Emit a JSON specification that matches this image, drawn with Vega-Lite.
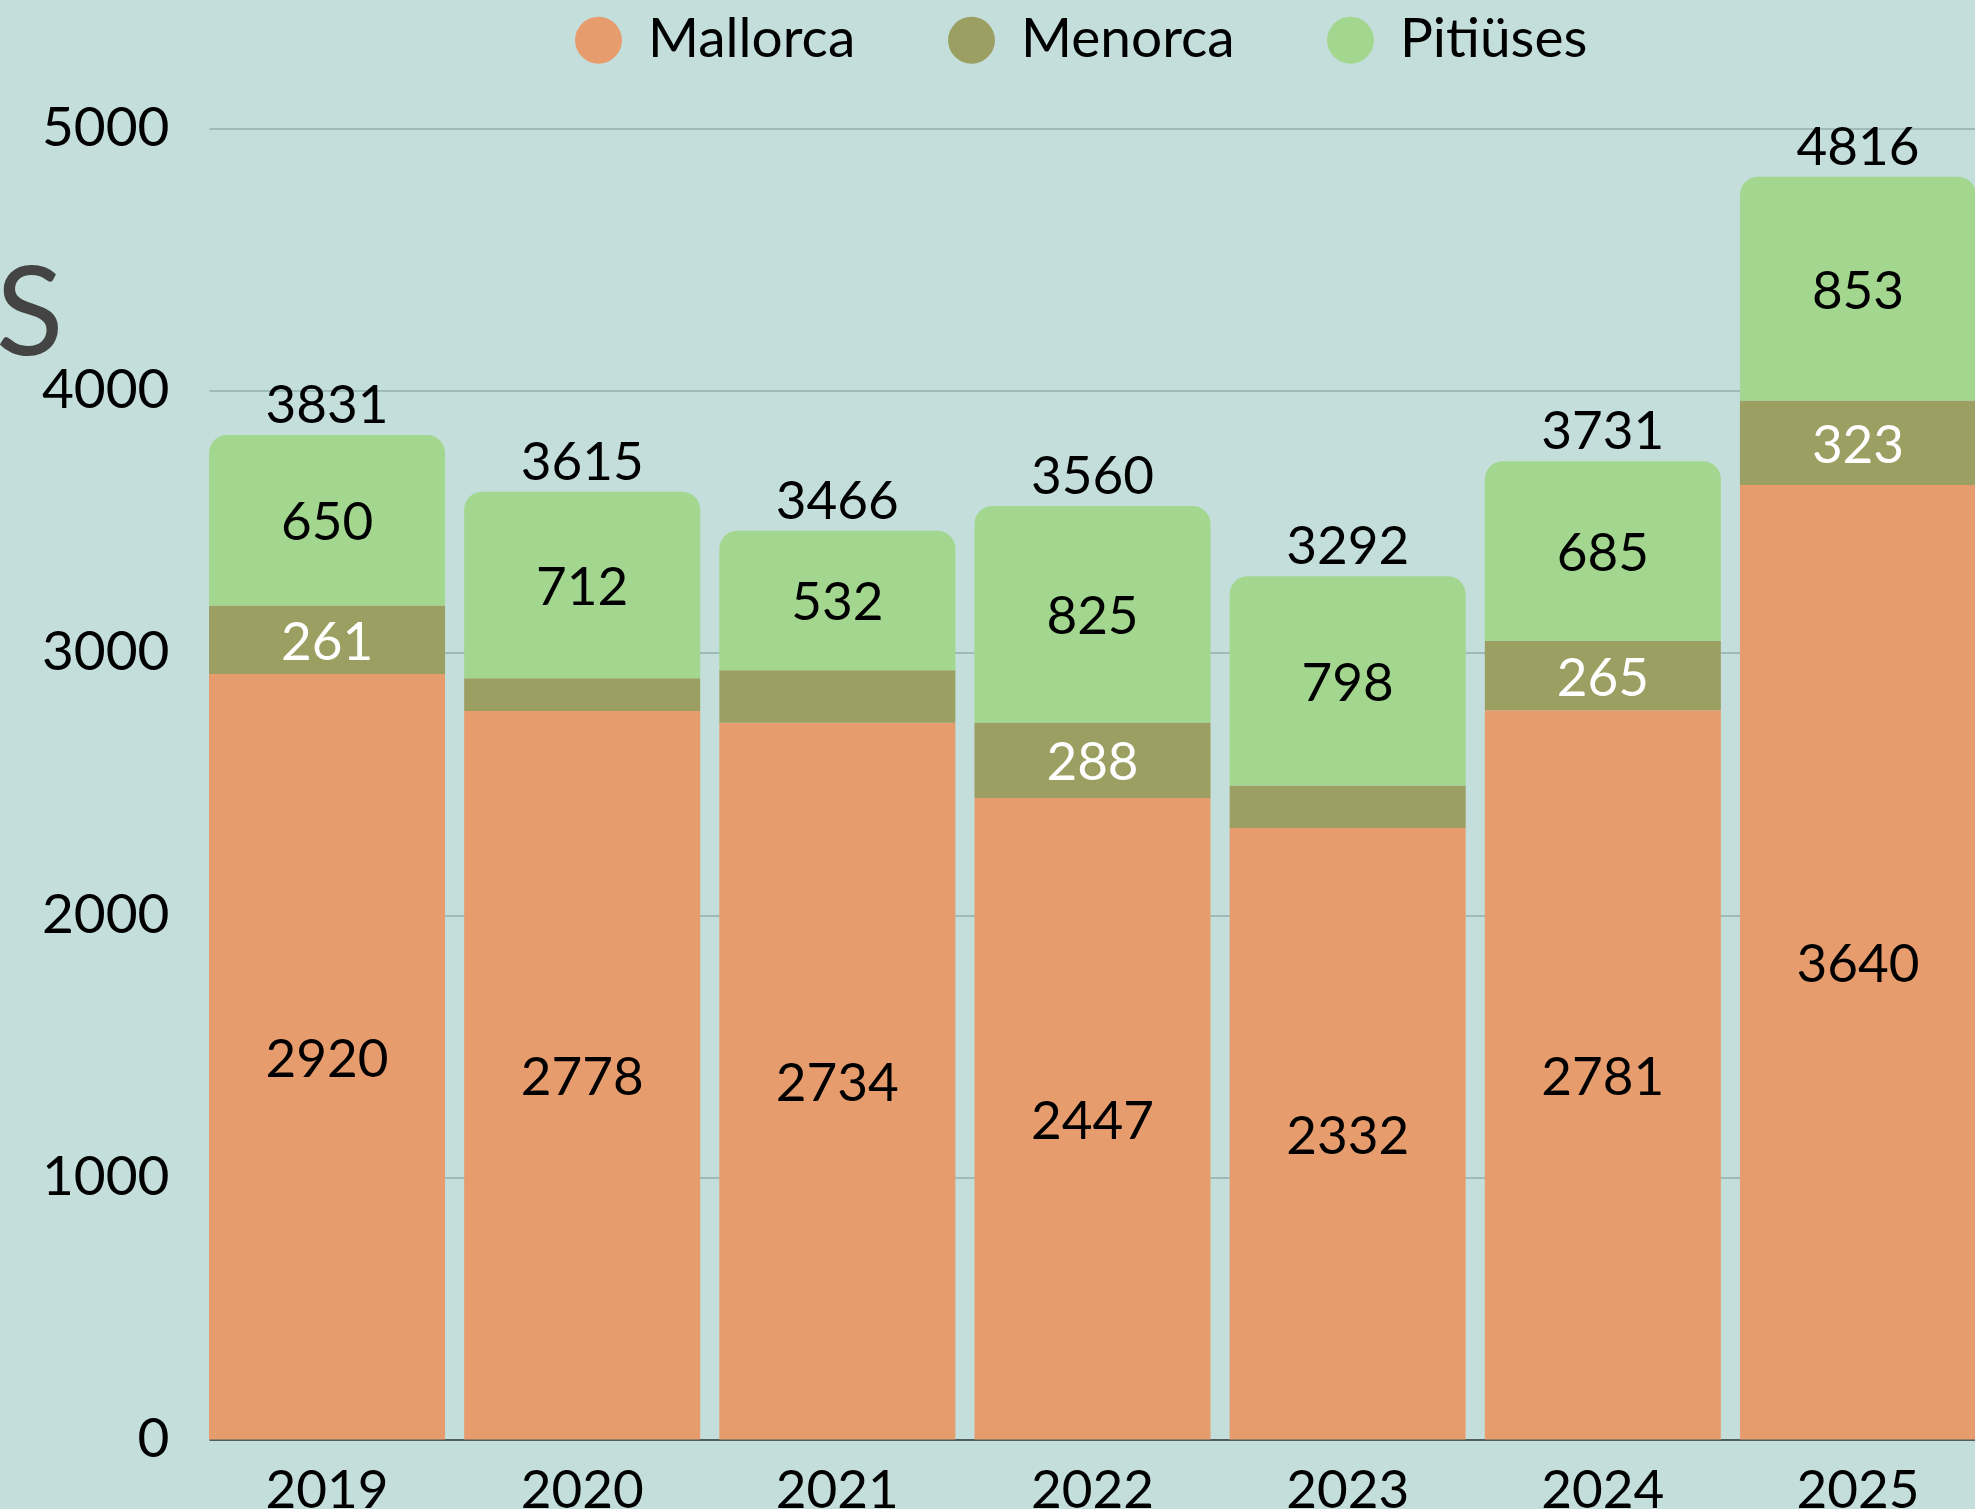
{
  "$schema": "https://vega.github.io/schema/vega-lite/v6.json",
  "width": 1767,
  "height": 1311,
  "autosize": {"type": "none"},
  "padding": {"left": 209, "top": 128.5, "right": 0, "bottom": 70},
  "background": "#c3dedb",
  "config": {
    "view": {"stroke": null},
    "font": "Lato",
    "text": {"font": "Lato", "fontWeight": 400}
  },
  "data": {
    "values": [
      {"year": "2019", "island": "Mallorca", "value": 2920},
      {"year": "2019", "island": "Menorca", "value": 261},
      {"year": "2019", "island": "Pitiüses", "value": 650},
      {"year": "2020", "island": "Mallorca", "value": 2778},
      {"year": "2020", "island": "Menorca", "value": 125},
      {"year": "2020", "island": "Pitiüses", "value": 712},
      {"year": "2021", "island": "Mallorca", "value": 2734},
      {"year": "2021", "island": "Menorca", "value": 200},
      {"year": "2021", "island": "Pitiüses", "value": 532},
      {"year": "2022", "island": "Mallorca", "value": 2447},
      {"year": "2022", "island": "Menorca", "value": 288},
      {"year": "2022", "island": "Pitiüses", "value": 825},
      {"year": "2023", "island": "Mallorca", "value": 2332},
      {"year": "2023", "island": "Menorca", "value": 162},
      {"year": "2023", "island": "Pitiüses", "value": 798},
      {"year": "2024", "island": "Mallorca", "value": 2781},
      {"year": "2024", "island": "Menorca", "value": 265},
      {"year": "2024", "island": "Pitiüses", "value": 685},
      {"year": "2025", "island": "Mallorca", "value": 3640},
      {"year": "2025", "island": "Menorca", "value": 323},
      {"year": "2025", "island": "Pitiüses", "value": 853}
    ]
  },
  "transform": [
    {"stack": "value", "groupby": ["year"], "sort": [{"field": "island", "order": "ascending"}], "as": ["v0", "v1"]}
  ],
  "encoding": {
    "x": {
      "field": "year", "type": "nominal",
      "scale": {"paddingInner": 0.075, "paddingOuter": 0},
      "axis": {
        "title": null, "labelAngle": 0, "ticks": false,
        "domain": true, "domainColor": "#4f5d5e", "domainWidth": 2,
        "labelFontSize": 53, "labelFont": "Lato", "labelFontWeight": 400, "labelColor": "#000000",
        "labelPadding": 26
      }
    }
  },
  "layer": [
    {
      "transform": [{"filter": "datum.island != 'Pitiüses'"}],
      "mark": {"type": "bar"},
      "encoding": {
        "y": {
          "field": "v1", "type": "quantitative",
          "scale": {"domain": [0, 5000], "nice": false},
          "axis": {
            "title": "S", "titleAngle": 0, "titleAlign": "right", "titleBaseline": "alphabetic",
            "titleX": -146, "titleY": 226, "titleFontSize": 125, "titleFontWeight": "normal",
            "titleColor": "#444444", "titleFont": "Lato",
            "values": [0, 1000, 2000, 3000, 4000, 5000], "format": "d",
            "domain": false, "ticks": false, "labelPadding": 40,
            "labelFontSize": 55, "labelFont": "Lato", "labelFontWeight": 400, "labelColor": "#000000",
            "grid": true, "gridColor": "#93afac", "gridWidth": 1.5
          }
        },
        "y2": {"field": "v0"},
        "color": {
          "field": "island", "type": "nominal",
          "scale": {"domain": ["Mallorca", "Menorca", "Pitiüses"], "range": ["#e79c6e", "#9c9f62", "#a3d78f"]},
          "legend": {
            "title": null, "orient": "none", "direction": "horizontal",
            "legendX": 362, "legendY": -116,
            "symbolType": "circle", "symbolSize": 2200, "symbolStrokeWidth": 0,
            "labelFontSize": 55, "labelFont": "Lato", "labelFontWeight": 400, "labelColor": "#000000", "labelLimit": 400,
            "labelOffset": 22, "columnPadding": 88
          }
        }
      }
    },
    {
      "transform": [{"filter": "datum.island == 'Pitiüses'"}],
      "mark": {"type": "bar", "cornerRadiusTopLeft": 18, "cornerRadiusTopRight": 18},
      "encoding": {
        "y": {"field": "v1", "type": "quantitative"},
        "y2": {"field": "v0"},
        "color": {"field": "island", "type": "nominal"}
      }
    },
    {
      "transform": [
        {"filter": "datum.island != 'Menorca' || datum.value >= 250"},
        {"calculate": "(datum.v0 + datum.v1) / 2", "as": "mid"}
      ],
      "mark": {"type": "text", "fontSize": 53, "baseline": "middle", "align": "center", "dy": 4},
      "encoding": {
        "y": {"field": "mid", "type": "quantitative"},
        "text": {"field": "value", "type": "quantitative"},
        "color": {"condition": {"test": "datum.island == 'Menorca'", "value": "#ffffff"}, "value": "#000000"}
      }
    },
    {
      "transform": [{"filter": "datum.island == 'Pitiüses'"}],
      "mark": {"type": "text", "fontSize": 53, "baseline": "alphabetic", "align": "center", "dy": -12, "color": "#000000"},
      "encoding": {
        "y": {"field": "v1", "type": "quantitative"},
        "text": {"field": "v1", "type": "quantitative"}
      }
    }
  ]
}
